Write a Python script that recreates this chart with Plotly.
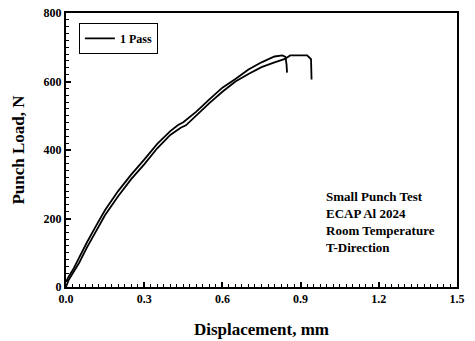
import plotly.graph_objects as go

# Curve 1 (upper/left specimen)
disp_a = [0.0, 0.01, 0.03, 0.05, 0.08, 0.12, 0.15, 0.2, 0.25, 0.3, 0.35, 0.4, 0.43, 0.45,
          0.5, 0.55, 0.6, 0.65, 0.7, 0.75, 0.8, 0.83, 0.842, 0.846, 0.848]
load_a = [15, 30, 55, 85, 130, 185, 225, 280, 328, 372, 418, 455, 473, 481,
          512, 548, 582, 607, 635, 656, 673, 676, 672, 650, 626]

# Curve 2 (lower/right specimen)
disp_b = [0.0, 0.01, 0.03, 0.05, 0.08, 0.12, 0.15, 0.2, 0.25, 0.3, 0.35, 0.4, 0.44, 0.46,
          0.5, 0.55, 0.6, 0.65, 0.7, 0.75, 0.8, 0.84, 0.86, 0.9, 0.925, 0.94, 0.942, 0.942]
load_b = [0, 20, 45, 70, 115, 170, 210, 265, 315, 358, 405, 444, 465, 472,
          502, 537, 570, 600, 622, 642, 656, 666, 676, 677, 676, 665, 640, 606]

x_ticks = [0.0, 0.3, 0.6, 0.9, 1.2, 1.5]
y_ticks = [0, 200, 400, 600, 800]

note_lines = ["Small Punch Test", "ECAP Al 2024", "Room Temperature", "T-Direction"]

FONT = "Liberation Serif, Times New Roman, serif"

fig = go.Figure()
fig.add_trace(go.Scatter(x=disp_a, y=load_a, mode="lines", name="1 Pass",
                         line=dict(color="black", width=1.8)))
fig.add_trace(go.Scatter(x=disp_b, y=load_b, mode="lines", name="1 Pass", showlegend=False,
                         line=dict(color="black", width=1.8)))

fig.update_layout(
    width=475, height=341,
    margin=dict(l=66, r=18, t=13, b=54),
    paper_bgcolor="white", plot_bgcolor="white",
    font=dict(family=FONT, color="black", size=12),
    showlegend=True,
    legend=dict(x=0.033, y=0.964, xanchor="left", yanchor="top",
                bordercolor="black", borderwidth=1, bgcolor="white",
                font=dict(family=FONT, size=12, weight="bold"),
                itemwidth=30, tracegroupgap=0),
    xaxis=dict(range=[0, 1.5], tickvals=x_ticks, ticktext=[f"{v:.1f}" for v in x_ticks],
               automargin=False,
               showgrid=False, zeroline=False, showline=True, linecolor="black", linewidth=2,
               mirror=True, ticks="inside", ticklen=5, tickwidth=1.5, tickcolor="black",
               minor=dict(dtick=0.025, tick0=0, ticks="inside", ticklen=3, tickcolor="black", tickwidth=1),
               tickfont=dict(family=FONT, size=12, weight="bold"),
               title=dict(text="Displacement, mm", font=dict(family=FONT, size=17, weight="bold"), standoff=18)),
    yaxis=dict(range=[0, 800], tickvals=y_ticks,
               automargin=False,
               showgrid=False, zeroline=False, showline=True, linecolor="black", linewidth=2,
               mirror=True, ticks="inside", ticklen=5, tickwidth=1.5, tickcolor="black",
               minor=dict(dtick=20, tick0=0, ticks="inside", ticklen=3, tickcolor="black", tickwidth=1),
               tickfont=dict(family=FONT, size=12, weight="bold"),
               title=dict(text="Punch Load, N", font=dict(family=FONT, size=17, weight="bold"), standoff=15)),
)

fig.add_annotation(x=0.66, y=0.365, xref="paper", yref="paper", xanchor="left", yanchor="top",
                   text="<br>".join(note_lines), showarrow=False, align="left",
                   font=dict(family=FONT, size=13, weight="bold"))

fig.write_html("out.html", config={"displayModeBar": False},
               post_script="document.body.style.margin='0';document.body.style.overflow='hidden';")
